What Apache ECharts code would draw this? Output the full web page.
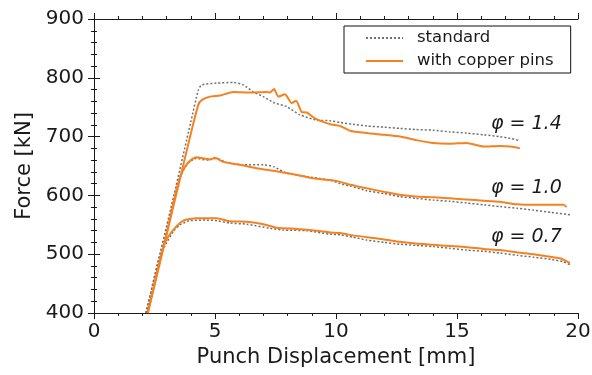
<!DOCTYPE html>
<html>
<head>
<meta charset="utf-8">
<script src="https://cdn.jsdelivr.net/npm/echarts@6/dist/echarts.min.js"></script>
<style>
  html, body { margin: 0; padding: 0; background: #fff; }
  #chart { width: 592px; height: 375px; }
</style>
</head>
<body>
<div id="chart"></div>
<script>
// punch displacement [mm] vs force [kN]
const standard14 = [[2.15,400],[3.3,600],[4.0,725],[4.31,779],[4.45,788],[5.07,791],[5.76,792],[6.17,788],[6.58,776],[7.0,768],[7.41,758],[7.96,751],[8.51,737],[9.2,728],[9.75,727],[10.17,724],[10.7,721],[11.27,718],[12.0,716],[12.64,714],[13.3,712],[14.0,711],[14.7,708],[15.4,706],[16.1,703],[16.78,700],[17.2,697],[17.6,693]];
const copper14 = [[2.22,400],[3.3,585],[4.0,705],[4.31,754],[4.45,762],[4.79,768],[5.21,770],[5.76,776],[6.45,775],[7.14,776],[7.27,775],[7.44,781],[7.62,768],[7.89,772],[8.17,757],[8.35,761],[8.58,742],[8.79,741],[9.13,731],[9.48,725],[9.75,721],[10.17,718],[10.58,710],[11.27,706],[12.0,703],[12.64,700],[13.33,694],[14.02,689],[14.7,688],[15.4,689],[16.09,683],[16.78,684],[17.2,683],[17.6,680]];
const standard10 = [[2.15,400],[3.0,545],[3.3,595],[3.55,632],[3.9,655],[4.24,663],[4.66,660],[5.07,663],[5.48,656],[6.17,652],[7.0,652],[7.41,649],[7.96,638],[8.79,632],[9.75,626],[10.17,620],[10.6,616],[11.27,608],[12.0,603],[12.64,598],[13.3,595],[14.02,592],[14.7,590],[15.4,587],[16.1,584],[16.78,581],[17.5,578],[18.16,575],[18.9,571],[19.67,567]];
const copper10 = [[2.22,400],[3.0,535],[3.3,590],[3.42,612],[3.6,635],[3.76,649],[4.0,660],[4.24,665],[4.79,661],[5.0,664],[5.34,657],[6.03,652],[6.72,646],[7.41,642],[8.24,636],[9.06,629],[9.75,626],[10.17,623],[10.6,618],[11.27,612],[12.0,606],[12.64,601],[13.3,598],[14.02,597],[14.7,595],[15.4,593],[16.1,591],[16.78,589],[17.47,585],[18.2,584],[18.9,584],[19.4,584],[19.53,580]];
const standard07 = [[2.15,400],[2.7,495],[3.0,519],[3.3,540],[3.55,550],[3.97,557],[4.66,558],[5.07,557],[5.62,553],[6.31,551],[7.27,544],[7.82,541],[8.79,540],[9.75,534],[10.17,533],[10.7,529],[11.27,524],[12.0,520],[12.64,517],[13.3,515],[14.02,513],[14.7,510],[15.4,507],[16.1,505],[16.78,502],[17.5,498],[18.16,495],[18.9,491],[19.4,487],[19.67,482]];
const copper07 = [[2.22,400],[2.75,495],[2.93,519],[3.21,538],[3.69,557],[4.24,561],[5.07,561],[5.62,556],[6.31,555],[7.0,551],[7.55,545],[8.38,543],[9.2,540],[9.75,537],[10.17,536],[10.7,532],[11.27,529],[12.0,525],[12.64,521],[13.3,518],[14.02,516],[14.7,514],[15.4,512],[16.1,509],[16.78,507],[17.5,503],[18.16,500],[18.8,496],[19.26,493],[19.67,485]];

const legendNames = ['standard', 'with copper pins'];
const curveLabels = ['φ = 1.4', 'φ = 1.0', 'φ = 0.7'];

const FONT = 'DejaVu Sans';
const INK = '#1a1a1a';
const GRAY = '#707070';
const ORANGE = '#f5821f';

const chart = echarts.init(document.getElementById('chart'));

function frameAxis(pos, isX, showLabel) {
  return {
    type: 'value',
    position: pos,
    min: isX ? 0 : 400,
    max: isX ? 20 : 900,
    interval: isX ? 5 : 100,
    splitLine: { show: false },
    axisLine: { show: true, lineStyle: { color: INK, width: 1 } },
    axisTick: { show: true, inside: false, length: 6, lineStyle: { color: INK } },
    minorTick: { show: true, splitNumber: 5, length: 3, lineStyle: { color: INK } },
    axisLabel: {
      show: showLabel,
      margin: isX ? 9 : 10,
      fontFamily: FONT,
      fontSize: 20,
      color: INK
    }
  };
}

function curve(name, data, isStd) {
  return {
    name: name,
    type: 'line',
    data: data,
    symbol: 'none',
    smooth: 0.2,
    xAxisIndex: 0,
    yAxisIndex: 0,
    lineStyle: isStd
      ? { color: GRAY, width: 1.5, type: [2, 2] }
      : { color: ORANGE, width: 2 },
    itemStyle: { color: isStd ? GRAY : ORANGE },
    z: isStd ? 2 : 3
  };
}

const xBottom = frameAxis('bottom', true, true);
xBottom.name = 'Punch Displacement [mm]';
xBottom.nameLocation = 'middle';
xBottom.nameGap = 33;
xBottom.nameTextStyle = { fontFamily: FONT, fontSize: 21, color: INK };

const yLeft = frameAxis('left', false, true);
yLeft.name = 'Force [kN]';
yLeft.nameLocation = 'middle';
yLeft.nameGap = 59;
yLeft.nameTextStyle = { fontFamily: FONT, fontSize: 21, color: INK };

chart.setOption({
  backgroundColor: '#fff',
  animation: false,
  grid: { left: 94, right: 14, top: 19, bottom: 62, outerBoundsMode: 'none' },
  xAxis: [xBottom, frameAxis('top', true, false)],
  yAxis: [yLeft, frameAxis('right', false, false)],
  legend: {
    data: legendNames,
    orient: 'vertical',
    left: 344,
    top: 26,
    padding: [2, 17, 2, 21],
    itemGap: 3,
    itemWidth: 37,
    itemHeight: 14,
    itemStyle: { opacity: 0 },
    borderColor: '#111',
    borderWidth: 1,
    borderRadius: 0,
    textStyle: { fontFamily: FONT, fontSize: 16.5, color: INK, lineHeight: 20, padding: [0, 0, 0, 9] }
  },
  graphic: [
    { type: 'text', x: 491, y: 124, style: { text: curveLabels[0], font: 'italic 19px "DejaVu Sans"', fill: INK, verticalAlign: 'middle' } },
    { type: 'text', x: 491, y: 188, style: { text: curveLabels[1], font: 'italic 19px "DejaVu Sans"', fill: INK, verticalAlign: 'middle' } },
    { type: 'text', x: 491, y: 237, style: { text: curveLabels[2], font: 'italic 19px "DejaVu Sans"', fill: INK, verticalAlign: 'middle' } }
  ],
  series: [
    curve(legendNames[0], standard14, true),
    curve(legendNames[1], copper14, false),
    curve(legendNames[0], standard10, true),
    curve(legendNames[1], copper10, false),
    curve(legendNames[0], standard07, true),
    curve(legendNames[1], copper07, false)
  ]
});
</script>
</body>
</html>
